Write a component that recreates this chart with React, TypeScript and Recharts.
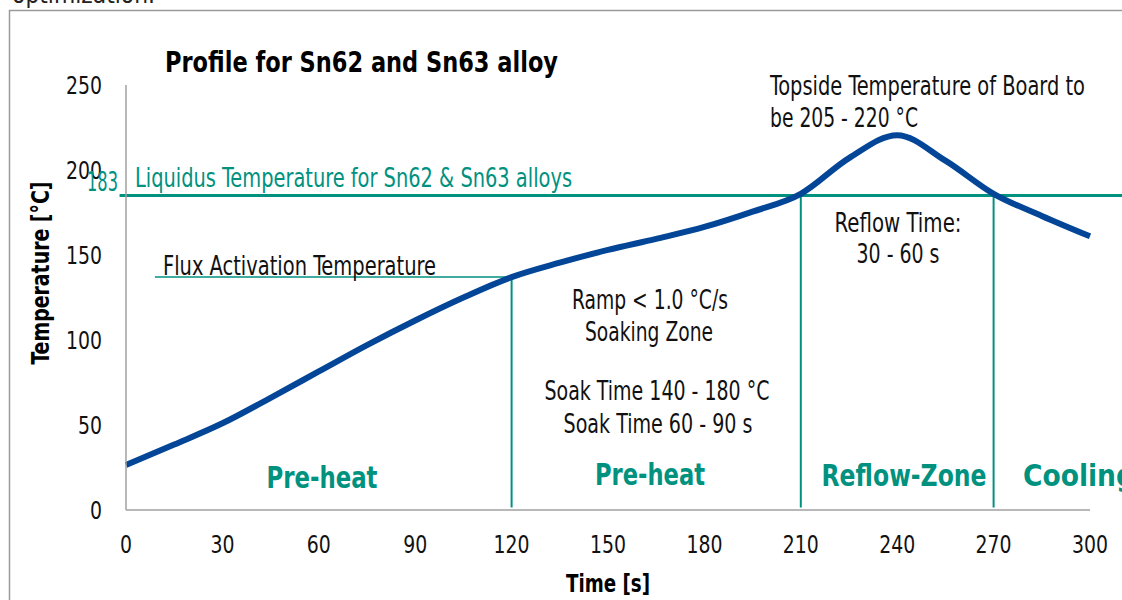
import React from "react";
import {
  LineChart,
  Line,
  XAxis,
  YAxis,
  ReferenceLine,
} from "recharts";

// reflow profile
const times = [0, 15, 30, 45, 60, 75, 90, 105, 120, 135, 150, 165, 180, 195, 210, 225, 240, 255, 270, 285, 300];
const temps = [26.5, 38.5, 51, 66, 81.5, 97, 111.5, 125, 137, 145.5, 153, 159.5, 166.5, 175.5, 186, 207, 220.5, 205.5, 186, 173, 161];

const xTicks = [0, 30, 60, 90, 120, 150, 180, 210, 240, 270, 300];
const yTicks = [0, 50, 100, 150, 200, 250];

const liquidus = 185;
const fluxTemp = 137;
const fluxStart = 9;
const soakStart = 120;
const reflowStart = 210;
const reflowEnd = 270;

const data = times.map((t, i) => ({ t, temp: temps[i] }));

const BLUE = "#034596";
const TEAL = "#00917f";
const AXIS = "#a0a0a0";
const FONT = "'DejaVu Sans Condensed', 'DejaVu Sans', sans-serif";

// text squeezed to the width it has in the original (condensed face)
const T = ({ w, children, ...rest }: any) => (
  <text
    textLength={w}
    lengthAdjust="spacingAndGlyphs"
    fontStretch="condensed"
    fontFamily={FONT}
    {...rest}
  >
    {children}
  </text>
);

const AxisTick = ({ x, y, payload, textAnchor, vertical }: any) => {
  const s = String(payload.value);
  return (
    <T
      x={x}
      y={y}
      w={s.length * 12}
      textAnchor={textAnchor}
      dy={vertical ? "0.355em" : "0.71em"}
      fontSize={25}
      fill="#111"
    >
      {s}
    </T>
  );
};

export default function App() {
  return (
    <div style={{ position: "absolute", left: 0, top: 0, width: 1122, height: 600, overflow: "hidden", background: "#fff" }}>
      <LineChart
        width={1122}
        height={600}
        data={data}
        margin={{ top: 85, right: 32, left: 0, bottom: 0 }}
      >
        <XAxis
          dataKey="t"
          type="number"
          domain={[0, 300]}
          ticks={xTicks}
          tickLine={false}
          tickMargin={19}
          axisLine={{ stroke: AXIS, strokeWidth: 1.5 }}
          tick={<AxisTick />}
          height={90}
          interval={0}
        />
        <YAxis
          type="number"
          domain={[0, 250]}
          ticks={yTicks}
          tickLine={false}
          tickMargin={18}
          axisLine={{ stroke: AXIS, strokeWidth: 1.5 }}
          tick={<AxisTick vertical />}
          width={126}
          interval={0}
        />
        <ReferenceLine
          segment={[{ x: -2, y: liquidus }, { x: 310, y: liquidus }]}
          stroke={TEAL}
          strokeWidth={3}
          ifOverflow="visible"
        />
        <ReferenceLine
          segment={[{ x: fluxStart, y: fluxTemp }, { x: soakStart, y: fluxTemp }]}
          stroke={TEAL}
          strokeWidth={1.5}
          ifOverflow="visible"
        />
        <ReferenceLine
          segment={[{ x: soakStart, y: fluxTemp }, { x: soakStart, y: 1.5 }]}
          stroke={TEAL}
          strokeWidth={2}
          ifOverflow="visible"
        />
        <ReferenceLine
          segment={[{ x: reflowStart, y: liquidus }, { x: reflowStart, y: 1.5 }]}
          stroke={TEAL}
          strokeWidth={2}
          ifOverflow="visible"
        />
        <ReferenceLine
          segment={[{ x: reflowEnd, y: liquidus }, { x: reflowEnd, y: 1.5 }]}
          stroke={TEAL}
          strokeWidth={2}
          ifOverflow="visible"
        />
        <Line
          type="monotone"
          dataKey="temp"
          stroke={BLUE}
          strokeWidth={6}
          dot={false}
          activeDot={false}
          isAnimationActive={false}
        />
      </LineChart>

      <svg
        width={1122}
        height={600}
        style={{ position: "absolute", left: 0, top: 0, pointerEvents: "none" }}
      >
        {/* frame around the figure */}
        <path d="M9.5 600 L9.5 10.5 L1122 10.5" fill="none" stroke="#9a9a9a" strokeWidth={1.5} />
        <T x={12} y={3} w={143} fontSize={24} fill="#222">optimization.</T>

        <T x={165} y={72} w={393} fontSize={28} fontWeight="bold" fill="#000">Profile for Sn62 and Sn63 alloy</T>
        <T transform="translate(49,273) rotate(-90)" w={183} textAnchor="middle" fontSize={24} fontWeight="bold" fill="#000">Temperature [°C]</T>
        <T x={608} y={592} w={84} textAnchor="middle" fontSize={24} fontWeight="bold" fill="#000">Time [s]</T>

        <T x={118} y={191} w={31} textAnchor="end" fontSize={26} fill={TEAL}>183</T>
        <T x={135} y={187} w={437} fontSize={26} fill={TEAL}>Liquidus Temperature for Sn62 &amp; Sn63 alloys</T>
        <T x={163} y={275} w={273} fontSize={26} fill="#111">Flux Activation Temperature</T>

        <T x={770} y={95} w={315} fontSize={26} fill="#111">Topside Temperature of Board to</T>
        <T x={770} y={127} w={148} fontSize={26} fill="#111">be 205 - 220 °C</T>

        <T x={898} y={232} w={127} textAnchor="middle" fontSize={26} fill="#111">Reflow Time:</T>
        <T x={898} y={263} w={83} textAnchor="middle" fontSize={26} fill="#111">30 - 60 s</T>

        <T x={650} y={309} w={156} textAnchor="middle" fontSize={26} fill="#111">Ramp &lt; 1.0 °C/s</T>
        <T x={649} y={341} w={128} textAnchor="middle" fontSize={26} fill="#111">Soaking Zone</T>
        <T x={657} y={400} w={225} textAnchor="middle" fontSize={26} fill="#111">Soak Time 140 - 180 °C</T>
        <T x={658} y={433} w={189} textAnchor="middle" fontSize={26} fill="#111">Soak Time 60 - 90 s</T>

        <T x={322} y={488} w={111} textAnchor="middle" fontSize={30} fontWeight="bold" fill={TEAL}>Pre-heat</T>
        <T x={650} y={485} w={110} textAnchor="middle" fontSize={30} fontWeight="bold" fill={TEAL}>Pre-heat</T>
        <T x={904} y={486} w={165} textAnchor="middle" fontSize={30} fontWeight="bold" fill={TEAL}>Reflow-Zone</T>
        <T x={1023} y={486} w={112} fontSize={30} fontWeight="bold" fill={TEAL}>Cooling</T>
      </svg>
    </div>
  );
}
